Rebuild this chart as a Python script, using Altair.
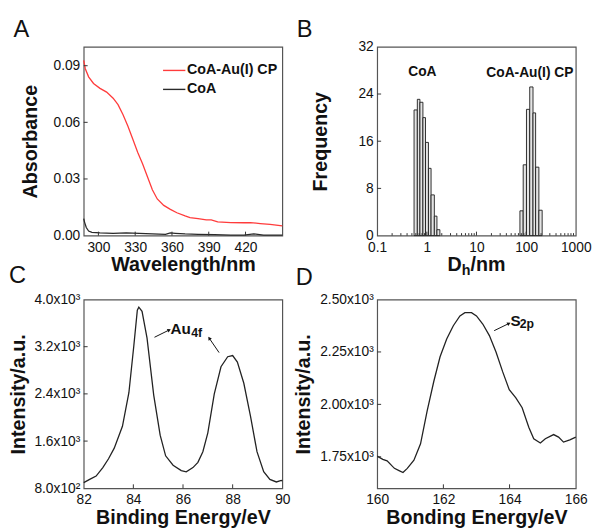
import math
import altair as alt
import pandas as pd

FONT = "Liberation Sans"
TXT = "#111111"
W, H = 202, 192

# ---------------- Panel A : UV-vis ----------------
a_series = ["CoA-Au(I) CP", "CoA"]
a_colors = ["#ff3b3b", "#2a2a2a"]
a_wl_cp = [288.0, 289.3, 292.0, 296.0, 301.3, 306.7, 312.0, 316.0, 320.0, 324.0, 328.0, 332.0,
           336.0, 340.0, 344.0, 348.0, 353.3, 358.7, 364.0, 370.7, 374.7, 381.3, 388.0, 392.0,
           397.3, 408.0, 418.7, 424.0, 432.0, 440.0, 450.0]
a_abs_cp = [0.0928, 0.0884, 0.0841, 0.0806, 0.0780, 0.0760, 0.0728, 0.0694, 0.0642, 0.0581,
            0.0512, 0.0442, 0.0381, 0.0312, 0.0243, 0.0194, 0.0160, 0.0139, 0.0121, 0.0104,
            0.0095, 0.0090, 0.0083, 0.0083, 0.0073, 0.0069, 0.0068, 0.0069, 0.0064, 0.0059, 0.0052]
a_wl_coa = [288.0, 288.8, 290.1, 292.0, 294.7, 301.3, 312.0, 322.7, 333.3, 344.0, 354.7, 358.7,
            362.7, 370.7, 381.3, 394.7, 408.0, 418.7, 426.7, 434.7, 450.0]
a_abs_coa = [0.0090, 0.0069, 0.0043, 0.0024, 0.0017, 0.0014, 0.0012, 0.0014, 0.0012, 0.0009,
             0.0007, 0.0014, 0.0012, 0.0009, 0.0007, 0.0005, 0.0003, 0.0003, 0.0009, 0.0003, 0.0003]
a_xticks = [300, 330, 360, 390, 420]
a_yticks = [0.0, 0.03, 0.06, 0.09]

# ---------------- Panel B : DLS histogram ----------------
b_coa_lo = [0.553, 0.644, 0.726, 0.834, 0.940, 1.078, 1.217, 1.416, 1.599]
b_coa_hi = [0.644, 0.726, 0.834, 0.940, 1.078, 1.217, 1.416, 1.599, 1.832]
b_coa_freq = [21.3, 23.1, 22.6, 20.0, 15.8, 11.4, 6.9, 3.3, 1.0]
b_cp_lo = [75.0, 87.3, 101.6, 118.2, 137.6, 155.3, 180.7]
b_cp_hi = [87.3, 101.6, 118.2, 137.6, 155.3, 180.7, 210.4]
b_cp_freq = [4.2, 12.0, 21.4, 25.2, 20.8, 11.6, 4.3]
b_xticks = [0.1, 1, 10, 100, 1000]
b_yticks = [0, 8, 16, 24, 32]
b_minor = [m * 10.0 ** e for e in (-1, 0, 1, 2) for m in range(2, 10)]

# ---------------- Panel C : XPS Au4f ----------------
c_be = [82.0, 82.24, 82.5, 82.77, 83.0, 83.23, 83.56, 83.82, 84.02, 84.16, 84.22, 84.35, 84.55,
        84.82, 85.08, 85.3, 85.6, 85.93, 86.13, 86.4, 86.6, 86.8, 87.0, 87.26, 87.53, 87.8, 88.0,
        88.19, 88.45, 88.72, 88.98, 89.25, 89.5, 89.76, 89.96, 90.0]
c_int = [895, 950, 1006, 1150, 1300, 1480, 1850, 2420, 3220, 3820, 3870, 3800, 3350, 2380, 1700,
         1350, 1190, 1100, 1080, 1150, 1240, 1420, 1740, 2400, 2860, 3030, 3050, 2940, 2580, 2020,
         1420, 1080, 950, 907, 933, 925]
c_xticks = [82, 84, 86, 88, 90]
c_yticks = [800, 1600, 2400, 3200, 4000]
c_ylabels = ["8.0x10²", "1.6x10³", "2.4x10³", "3.2x10³", "4.0x10³"]

# ---------------- Panel D : XPS S2p ----------------
d_be = [160.0, 160.17, 160.3, 160.52, 160.66, 160.78, 160.91, 161.11, 161.31, 161.51, 161.71,
        161.9, 162.1, 162.3, 162.5, 162.65, 162.85, 163.0, 163.19, 163.39, 163.59, 163.79, 163.99,
        164.19, 164.38, 164.58, 164.73, 164.93, 165.08, 165.33, 165.48, 165.63, 165.82, 166.0]
d_int = [1753, 1738, 1731, 1695, 1684, 1675, 1695, 1734, 1812, 1969, 2109, 2227, 2312, 2375, 2422,
         2437, 2437, 2422, 2383, 2328, 2250, 2156, 2070, 2031, 1984, 1891, 1836, 1816, 1836, 1856,
         1844, 1820, 1831, 1844]
d_xticks = [160, 162, 164, 166]
d_yticks = [1750, 2000, 2250, 2500]
d_ylabels = ["1.75x10³", "2.00x10³", "2.25x10³", "2.50x10³"]

TITLE_SIZE = 20
LABEL_SIZE = 14


def label_expr(vals, labels):
    return " : ".join(f"datum.value == {v} ? '{l}'" for v, l in zip(vals, labels)) + " : ''"


def x_axis(values, title, fmt=None, expr=None):
    kw = dict(values=values, domain=False, ticks=False, grid=False, labelFont=FONT,
              labelFontSize=LABEL_SIZE, labelColor=TXT, labelPadding=5, labelFlush=False,
              labelOverlap=False, titleFont=FONT, titleFontSize=TITLE_SIZE, titleFontWeight="bold",
              titleColor=TXT, titleY=36, titleBaseline="alphabetic")
    kw["title"] = title
    if fmt:
        kw["format"] = fmt
    if expr:
        kw["labelExpr"] = expr
    return alt.Axis(**kw)


def y_axis(values, title, tx, fmt=None, expr=None):
    kw = dict(values=values, domain=False, ticks=False, grid=False, labelFont=FONT,
              labelFontSize=LABEL_SIZE, labelColor=TXT, labelPadding=4, labelFlush=False,
              labelOverlap=False, title=title, titleFont=FONT, titleFontSize=TITLE_SIZE,
              titleFontWeight="bold", titleColor=TXT, titleX=tx, titleBaseline="alphabetic")
    if fmt:
        kw["format"] = fmt
    if expr:
        kw["labelExpr"] = expr
    return alt.Axis(**kw)


def text(t, x, y, size, weight="bold", baseline="alphabetic"):
    return alt.Chart(pd.DataFrame({"t": [t]})).mark_text(
        align="left", baseline=baseline, font=FONT, fontSize=size, fontWeight=weight, color=TXT
    ).encode(text="t:N", x=alt.value(x), y=alt.value(y))


def hrule(x1, x2, y, color, width=1.4):
    return alt.Chart(pd.DataFrame({"k": [0]})).mark_rule(color=color, strokeWidth=width).encode(
        x=alt.value(x1), x2=alt.value(x2), y=alt.value(y))


def anchor(x, y):
    # invisible point that fixes the top-left corner of the drawing
    return alt.Chart(pd.DataFrame({"k": [0]})).mark_rule(opacity=0, strokeWidth=0.01).encode(
        x=alt.value(x), x2=alt.value(x + 1), y=alt.value(y), y2=alt.value(y + 1))


def arrow(x1, y1, x2, y2):
    ang = math.degrees(math.atan2(x2 - x1, -(y2 - y1))) % 360
    df = pd.DataFrame({"k": [0]})
    line = alt.Chart(df).mark_rule(color=TXT, strokeWidth=1).encode(
        x=alt.value(x1), y=alt.value(y1), x2=alt.value(x2), y2=alt.value(y2))
    head = alt.Chart(df).mark_point(shape="triangle-up", filled=True, size=16, color=TXT,
                                    opacity=1, angle=ang).encode(x=alt.value(x2), y=alt.value(y2))
    return [line, head]


def tick_layers(xenc, yenc, xvals, yvals, ln=4):
    xt = alt.Chart(pd.DataFrame({"x": xvals})).mark_rule(color="#333", strokeWidth=1).encode(
        x=xenc, y=alt.value(H), y2=alt.value(H - ln))
    yt = alt.Chart(pd.DataFrame({"y": yvals})).mark_rule(color="#333", strokeWidth=1).encode(
        y=yenc, x=alt.value(0), x2=alt.value(ln))
    return [xt, yt]


# ----- A -----
df_a = pd.concat([
    pd.DataFrame({"x": a_wl_cp, "y": a_abs_cp, "s": a_series[0]}),
    pd.DataFrame({"x": a_wl_coa, "y": a_abs_coa, "s": a_series[1]}),
])
xa = alt.X("x:Q", scale=alt.Scale(domain=[288, 450], nice=False, zero=False),
           axis=x_axis(a_xticks, "Wavelength/nm", fmt="d"))
ya = alt.Y("y:Q", scale=alt.Scale(domain=[0, 0.1], nice=False, zero=False),
           axis=y_axis(a_yticks, "Absorbance", -48.5, fmt=".2f"))
lines_a = alt.Chart(df_a).mark_line(strokeWidth=1.3).encode(
    x=xa, y=ya,
    color=alt.Color("s:N", scale=alt.Scale(domain=a_series, range=a_colors), legend=None))
panel_a = alt.layer(
    lines_a, *tick_layers(xa, ya, a_xticks, [0.03, 0.06, 0.09]),
    hrule(80.7, 103.4, 24, a_colors[0]), text(a_series[0], 105, 24, 14.5, baseline="middle"),
    hrule(80.7, 103.4, 43.3, a_colors[1]), text(a_series[1], 105, 43.3, 14.5, baseline="middle"),
    text("A", -71.3, -10.5, 24, weight="normal"),
    anchor(-76, -34),
).properties(width=W, height=H)

# ----- B -----
df_b = pd.concat([
    pd.DataFrame({"x": b_coa_lo, "x2": b_coa_hi, "y": b_coa_freq}),
    pd.DataFrame({"x": b_cp_lo, "x2": b_cp_hi, "y": b_cp_freq}),
])
xb = alt.X("x:Q", scale=alt.Scale(type="log", domain=[0.1, 1000], nice=False),
           axis=x_axis(b_xticks, None, fmt="~g"))
yb = alt.Y("y:Q", scale=alt.Scale(domain=[0, 32], nice=False, zero=False),
           axis=y_axis(b_yticks, "Frequency", -52, fmt="d"))
bars_b = alt.Chart(df_b).mark_rect(fill="#e4e4e4", stroke="#1a1a1a", strokeWidth=0.9).encode(
    x=xb, x2="x2:Q", y=yb, y2=alt.datum(0))
minor_b = alt.Chart(pd.DataFrame({"x": b_minor})).mark_rule(color="#333").encode(
    x=xb, y=alt.value(H), y2=alt.value(H - 2.5))
panel_b = alt.layer(
    bars_b, minor_b, *tick_layers(xb, yb, [1, 10, 100], [8, 16, 24]),
    text("CoA", 31.6, 30, 14), text("CoA-Au(I) CP", 111, 30.3, 14),
    text("D", 71.5, H + 36, TITLE_SIZE), text("h", 86, H + 40, 14.5),
    text("/nm", 95, H + 36, TITLE_SIZE),
    text("B", -81.7, -10.5, 24, weight="normal"),
).properties(width=W, height=H)

# ----- C -----
df_c = pd.DataFrame({"x": c_be, "y": c_int})
xc = alt.X("x:Q", scale=alt.Scale(domain=[82, 90], nice=False, zero=False),
           axis=x_axis(c_xticks, "Binding Energy/eV", fmt="d"))
yc = alt.Y("y:Q", scale=alt.Scale(domain=[800, 4000], nice=False, zero=False),
           axis=y_axis(c_yticks, "Intensity/a.u.", -60, expr=label_expr(c_yticks, c_ylabels)))
line_c = alt.Chart(df_c).mark_line(color="#222", strokeWidth=1.3).encode(x=xc, y=yc)
panel_c = alt.layer(
    line_c, *tick_layers(xc, yc, [84, 86, 88], [1600, 2400, 3200]),
    *arrow(72, 38.4, 87, 31), *arrow(137.7, 54, 127.7, 39.4),
    text("Au", 88.3, 35, 15.5), text("4f", 109.3, 38.4, 12.5),
    text("C", -76, -16.6, 24, weight="normal"),
).properties(width=W, height=H)

# ----- D -----
df_d = pd.DataFrame({"x": d_be, "y": d_int})
xd = alt.X("x:Q", scale=alt.Scale(domain=[160, 166], nice=False, zero=False),
           axis=x_axis(d_xticks, "Bonding Energy/eV", fmt="d"))
yd = alt.Y("y:Q", scale=alt.Scale(domain=[1600, 2500], nice=False, zero=False),
           axis=y_axis(d_yticks, "Intensity/a.u.", -68.5, expr=label_expr(d_yticks, d_ylabels)))
line_d = alt.Chart(df_d).mark_line(color="#222", strokeWidth=1.3).encode(x=xd, y=yd)
panel_d = alt.layer(
    line_d, *tick_layers(xd, yd, [162, 164], [1750, 2000, 2250]),
    *arrow(119, 31.7, 134, 24.4),
    text("S", 135.6, 26.7, 15.5), text("2p", 145, 29, 12.5),
    text("D", -82.7, -15, 24, weight="normal"),
).properties(width=W, height=H)

chart = alt.concat(
    panel_a, panel_b, panel_c, panel_d, columns=2,
    spacing={"row": 65, "column": 96.5}, bounds="flush",
).properties(
    padding={"left": 0, "top": 0, "right": 0, "bottom": 0}
).configure_view(stroke="#555555", strokeWidth=1.2)

chart.save("out.html", embed_options={"renderer": "svg", "actions": False})
